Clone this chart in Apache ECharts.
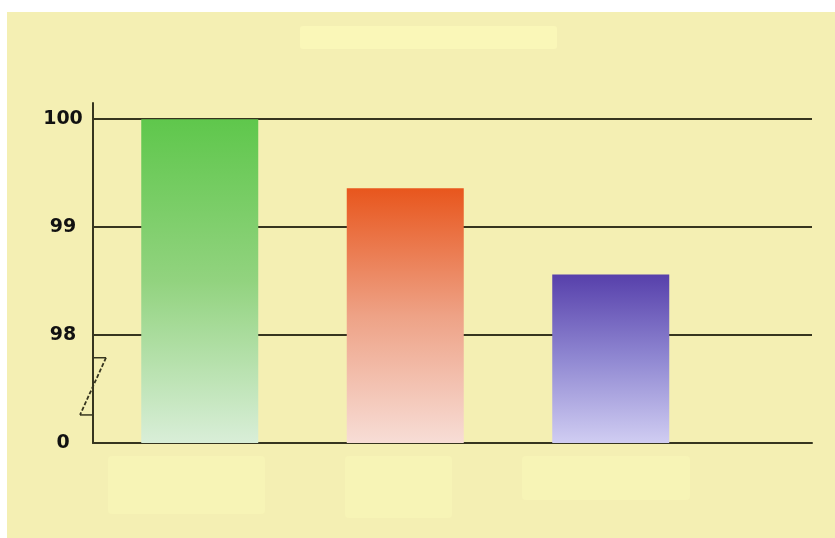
<!DOCTYPE html>
<html>
<head>
<meta charset="utf-8">
<script src="https://cdn.jsdelivr.net/npm/echarts@6/dist/echarts.min.js"></script>
<style>
  html, body { margin: 0; padding: 0; background: #ffffff; }
  #chart { width: 835px; height: 538px; }
</style>
</head>
<body>
<div id="chart"></div>
<script>
// ---- data ----
const categories = ['A', 'B', 'C'];
const values = [100, 99.36, 98.56];
const yTickValues = [97, 98, 99, 100];
const yTickLabels = ['0', '98', '99', '100'];
const barColors = [
  ['#5fc74c', '#92d37f', '#d9eed8'],
  ['#e8561d', '#eea286', '#f7ddd6'],
  ['#5740ab', '#9088d2', '#d0cdf2']
];

const Y_MIN = 97, Y_MAX = 100.15;
const lineColor = '#36351f';

const chart = echarts.init(document.getElementById('chart'), null, { renderer: 'canvas' });

function tickLabel(v) {
  const i = yTickValues.indexOf(Math.round(v * 100) / 100);
  return i >= 0 ? yTickLabels[i] : '';
}

const option = {
  backgroundColor: '#ffffff',
  animation: false,
  grid: [
    { left: 93, right: 23, top: 103, bottom: 95 },
    { left: 97, width: 616.5, top: 103, bottom: 95 }
  ],
  xAxis: [
    {
      gridIndex: 0, type: 'category', data: categories,
      axisLine: { show: true, lineStyle: { color: lineColor, width: 2 } },
      axisTick: { show: false }, axisLabel: { show: false }, splitLine: { show: false }
    },
    {
      gridIndex: 1, type: 'category', data: categories,
      axisLine: { show: false }, axisTick: { show: false }, axisLabel: { show: false }
    }
  ],
  yAxis: [
    {
      gridIndex: 0, type: 'value', min: Y_MIN, max: Y_MAX, interval: 1,
      axisLine: { show: true, lineStyle: { color: lineColor, width: 2 } },
      axisTick: { show: false },
      axisLabel: {
        show: true, margin: 30, align: 'center',
        formatter: tickLabel,
        color: '#111111', fontFamily: 'DejaVu Sans', fontWeight: 'bold', fontSize: 19
      },
      splitLine: { show: true, showMaxLine: false, lineStyle: { color: lineColor, width: 2 } }
    },
    {
      gridIndex: 1, type: 'value', min: Y_MIN, max: Y_MAX, interval: 1,
      axisLine: { show: false }, axisTick: { show: false }, axisLabel: { show: false },
      splitLine: { show: false }
    }
  ],
  series: [
    {
      type: 'bar', xAxisIndex: 1, yAxisIndex: 1,
      barWidth: 117,
      z: 5,
      data: values.map((v, i) => ({
        value: v,
        itemStyle: {
          color: new echarts.graphic.LinearGradient(0, 0, 0, 1, [
            { offset: 0, color: barColors[i][0] },
            { offset: 0.5, color: barColors[i][1] },
            { offset: 1, color: barColors[i][2] }
          ])
        }
      }))
    }
  ],
  graphic: [
    { type: 'rect', left: 7, top: 12, shape: { width: 828, height: 526 }, style: { fill: '#f4efb3' }, z: -10, silent: true },
    { type: 'rect', left: 300, top: 26, shape: { width: 257, height: 23, r: 3 }, style: { fill: '#faf7b8' }, z: -9, silent: true },
    { type: 'rect', left: 108, top: 456, shape: { width: 157, height: 58, r: 4 }, style: { fill: '#f7f4b6' }, z: -9, silent: true },
    { type: 'rect', left: 345, top: 456, shape: { width: 107, height: 62, r: 4 }, style: { fill: '#f7f4b6' }, z: -9, silent: true },
    { type: 'rect', left: 522, top: 456, shape: { width: 168, height: 44, r: 4 }, style: { fill: '#f7f4b6' }, z: -9, silent: true }
  ]
};

chart.setOption(option);

// axis-break zigzag mark on the y axis, positioned via the axis scale
const xAxisLeft = chart.convertToPixel({ gridIndex: 0 }, [0, Y_MIN]) ? 93 : 93;
const yTop = chart.convertToPixel({ yAxisIndex: 0 }, 97.79);
const yBot = chart.convertToPixel({ yAxisIndex: 0 }, 97.26);
chart.setOption({
  graphic: option.graphic.concat([
    { type: 'line', shape: { x1: xAxisLeft, y1: yTop, x2: xAxisLeft + 13, y2: yTop }, style: { stroke: lineColor, lineWidth: 1.5 }, z: 20 },
    { type: 'line', shape: { x1: xAxisLeft + 13, y1: yTop, x2: xAxisLeft - 13, y2: yBot }, style: { stroke: lineColor, lineWidth: 1.8, lineDash: [4, 2] }, z: 20 },
    { type: 'line', shape: { x1: xAxisLeft - 13, y1: yBot, x2: xAxisLeft, y2: yBot }, style: { stroke: lineColor, lineWidth: 1.5 }, z: 20 }
  ])
});
</script>
</body>
</html>
